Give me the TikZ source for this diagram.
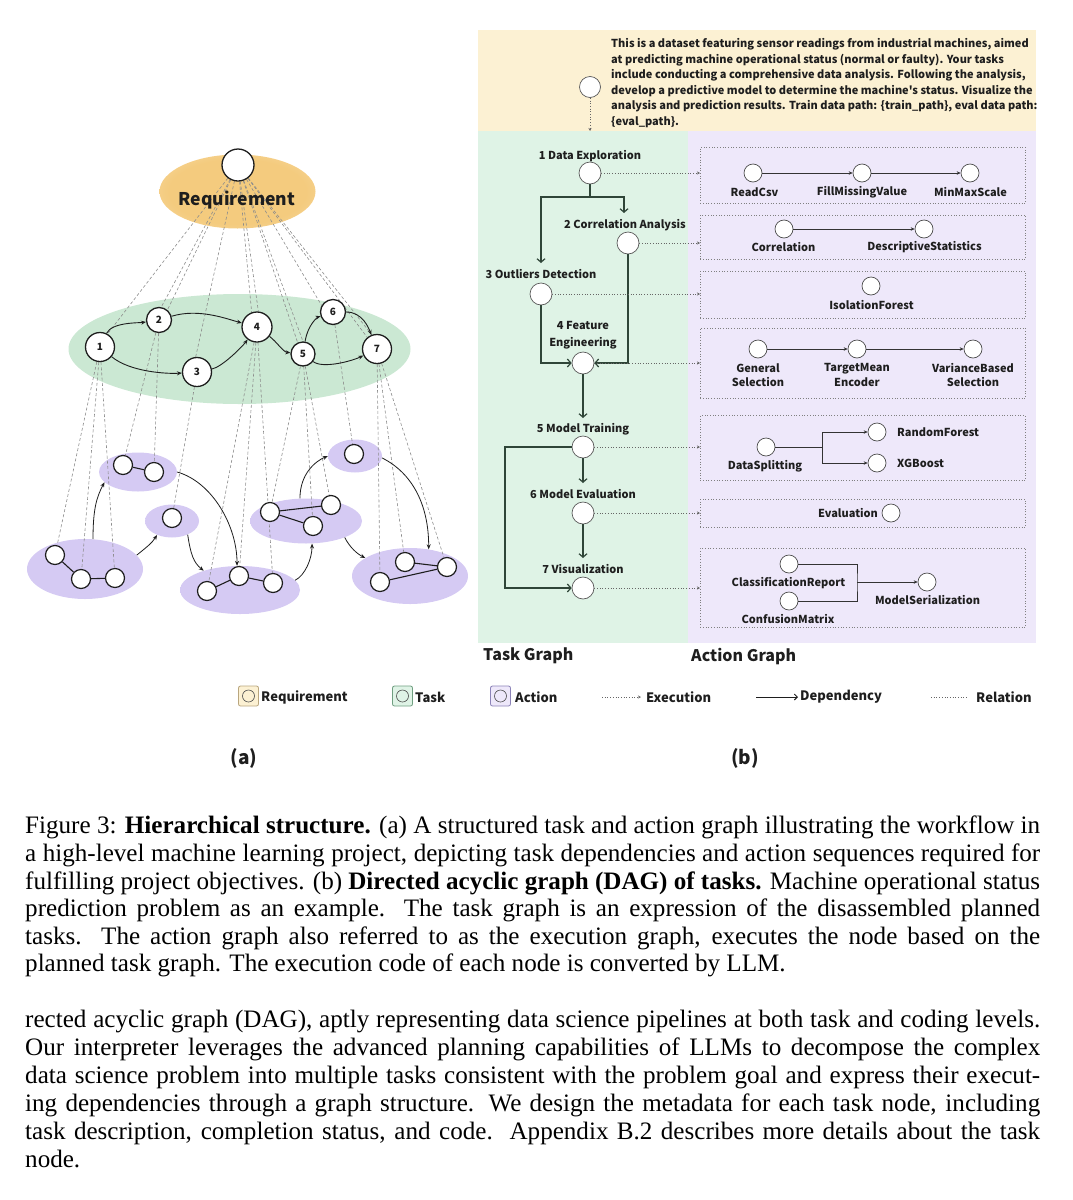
\documentclass[tikz,border=0pt]{standalone}
\usepackage{fontspec}
\usepackage{graphicx}
\setmainfont{Liberation Serif}
\newfontfamily\sfcjk{Noto Sans CJK SC}
\usetikzlibrary{arrows.meta,shapes.geometric}
\pgfdeclarelayer{bg}
\pgfdeclarelayer{mid}
\pgfsetlayers{bg,mid,main}
\definecolor{reqIn}{HTML}{F4CB7E}
\definecolor{reqOut}{HTML}{FBEACB}
\definecolor{grnIn}{HTML}{CBE8D3}
\definecolor{grnOut}{HTML}{E6F4EA}
\definecolor{purIn}{HTML}{D5CAF3}
\definecolor{purOut}{HTML}{E8E2F9}
\definecolor{bgY}{HTML}{FCF1D3}
\definecolor{bgG}{HTML}{DFF3E6}
\definecolor{bgP}{HTML}{EEE8FA}
\definecolor{depG}{HTML}{2F4538}
\definecolor{ink}{HTML}{1E1E1E}
\definecolor{lgYb}{HTML}{B9A67E}
\definecolor{lgGb}{HTML}{6F9E80}
\definecolor{lgPb}{HTML}{8C83B8}
\pgfdeclareradialshading{reqshade}{\pgfpoint{0bp}{0bp}}{color(0bp)=(reqIn); color(22bp)=(reqIn); color(50bp)=(reqOut)}
\pgfdeclareradialshading{grnshade}{\pgfpoint{0bp}{0bp}}{color(0bp)=(grnIn); color(34bp)=(grnIn); color(50bp)=(grnOut)}
\pgfdeclareradialshading{purshade}{\pgfpoint{0bp}{0bp}}{color(0bp)=(purIn); color(34bp)=(purIn); color(50bp)=(purOut)}
\newcommand{\capline}[1]{\hbox to 1015pt{#1}}
\newcommand{\capend}[1]{\hbox{#1}}
\begin{document}
\begin{tikzpicture}[x=1pt,y=-1pt,
  lab/.style={font=\sfcjk\bfseries\fontsize{11}{13}\selectfont, text=ink, inner sep=1pt},
  leg/.style={font=\sfcjk\bfseries\fontsize{13}{14}\selectfont, text=ink, inner sep=0pt, anchor=west},
  tnode/.style={circle, draw=ink, fill=white, line width=1.3pt, inner sep=0pt, font=\sfcjk\bfseries\fontsize{10}{10}\selectfont, text=ink},
  anode/.style={circle, draw=ink, fill=white, line width=1.2pt, minimum size=19pt, inner sep=0pt},
  clus/.style={ellipse, shade, shading=purshade, inner sep=0pt},
  rel/.style={draw=black!45, line width=0.6pt, dash pattern=on 3pt off 2.2pt},
  tdepa/.style={draw=ink, line width=0.9pt, -{Stealth[length=5pt,width=4pt]}},
  carr/.style={draw=ink, line width=0.8pt, -{Stealth[length=5pt,width=4pt]}},
  aline/.style={draw=ink, line width=1.1pt},
  bcirc/.style={circle, draw=black!65, fill=white, line width=0.7pt, minimum size=22pt, inner sep=0pt},
  bact/.style={circle, draw=black!70, fill=white, line width=0.7pt, minimum size=18pt, inner sep=0pt},
  tdep/.style={draw=depG, line width=1.2pt, -{Straight Barb[length=3.5pt,width=8pt,line width=1.2pt]}},
  tline/.style={draw=depG, line width=1.2pt},
  adep/.style={draw=black!80, line width=0.7pt, -{Stealth[length=4pt,width=3.5pt]}},
  aln/.style={draw=black!80, line width=0.7pt},
  exe/.style={draw=black!60, line width=0.7pt, dotted, -{Stealth[length=3pt,width=3pt]}},
  abox/.style={draw=black!50, line width=0.7pt, dotted, inner sep=0pt, anchor=north west, minimum width=325pt},
  lgbox/.style={rounded corners=2pt, minimum size=20pt, inner sep=0pt, line width=0.8pt},
  lgcirc/.style={circle, draw=black!70, fill=none, minimum size=12pt, inner sep=0pt, line width=0.6pt},
 ]
\useasboundingbox (0,0) rectangle (1073,1200);

% ================= backgrounds =================
\begin{pgfonlayer}{bg}
\fill[bgY] (478,30) rectangle (1036,131);
\fill[bgG] (478,131) rectangle (688,643);
\fill[bgP] (688,131) rectangle (1036,643);
\node[ellipse, shade, shading=reqshade, minimum width=156pt, minimum height=74pt, inner sep=0pt] (reqE) at (237.5,191.5) {};
\node[ellipse, shade, shading=grnshade, minimum width=342pt, minimum height=110pt, inner sep=0pt] (taskE) at (239.5,349) {};
\node[clus, minimum width=116pt, minimum height=60pt] (cA) at (85,569) {};
\node[clus, minimum width=78pt, minimum height=39pt] (cB) at (138,472) {};
\node[clus, minimum width=54pt, minimum height=33pt] (cC) at (172,521) {};
\node[clus, minimum width=120pt, minimum height=48pt] (cD) at (240,590) {};
\node[clus, minimum width=112pt, minimum height=45pt] (cE) at (306,521) {};
\node[clus, minimum width=54pt, minimum height=33pt] (cF) at (355,456) {};
\node[clus, minimum width=116pt, minimum height=56pt] (cG) at (410,576) {};
\end{pgfonlayer}

% ================= (a) nodes =================
\node[tnode, minimum size=32pt] (req) at (238,165) {};
\node[font=\sfcjk\bfseries\fontsize{17.5}{18}\selectfont, text=ink] (reqlab) at (237,200) {Requirement};
\node[tnode, minimum size=29pt] (t1) at (100,347) {1};
\node[tnode, minimum size=25pt] (t2) at (159,320) {2};
\node[tnode, minimum size=29pt] (t3) at (197,372) {3};
\node[tnode, minimum size=30pt] (t4) at (257,327) {4};
\node[tnode, minimum size=24pt] (t5) at (303,354) {5};
\node[tnode, minimum size=25pt] (t6) at (333,312) {6};
\node[tnode, minimum size=29pt] (t7) at (377,349) {7};

\node[anode] (a1) at (55,555) {};
\node[anode] (a2) at (81,579) {};
\node[anode] (a3) at (115,578) {};
\node[anode] (b1) at (123,465) {};
\node[anode] (b2) at (154,472) {};
\node[anode] (c1) at (172,518) {};
\node[anode] (d1) at (207,591) {};
\node[anode] (d2) at (239,576) {};
\node[anode] (d3) at (273,583) {};
\node[anode] (e1) at (270,512) {};
\node[anode] (e2) at (331,505) {};
\node[anode] (e3) at (313,526) {};
\node[anode] (f1) at (354,454) {};
\node[anode] (g1) at (380,582) {};
\node[anode] (g2) at (405,562) {};
\node[anode] (g3) at (447,567) {};

\begin{pgfonlayer}{mid}
% requirement -> tasks
\draw[rel] (req) -- (t1.60);
\draw[rel] (req) -- (t2.80);
\draw[rel] (req) -- (t2.50);
\draw[rel] (req) -- (t3.95);
\draw[rel] (req) -- (t4.110);
\draw[rel] (req) -- (t4.85);
\draw[rel] (req) -- (t5.115);
\draw[rel] (req) -- (t5.90);
\draw[rel] (req) -- (t6.150);
\draw[rel] (req) -- (t7.130);
\draw[rel] (req) -- (t7.110);
% tasks -> actions
\draw[rel] (t1) -- (a1);
\draw[rel] (t1) -- (a2);
\draw[rel] (t1) -- (a3);
\draw[rel] (t2) -- (b1);
\draw[rel] (t2) -- (b2);
\draw[rel] (t3) -- (c1);
\draw[rel] (t4) -- (d1);
\draw[rel] (t4) -- (d2);
\draw[rel] (t4) -- (d3);
\draw[rel] (t5) -- (e1);
\draw[rel] (t5) -- (e2);
\draw[rel] (t5) -- (e3);
\draw[rel] (t6) -- (f1);
\draw[rel] (t7) -- (g1);
\draw[rel] (t7) -- (g2);
\draw[rel] (t7) -- (g3);
% links inside action clusters
\draw[aline] (a1) -- (a2) -- (a3);
\draw[aline] (b1) -- (b2);
\draw[aline] (d1) -- (d2) -- (d3);
\draw[aline] (e1) -- (e2);
\draw[aline] (e1) -- (e3);
\draw[aline] (g2) -- (g3);
\draw[aline] (g1) -- (g3);
% task dependencies
\draw[tdepa] (t1) .. controls +(12,-25) and +(-20,3) .. (t2);
\draw[tdepa] (t1) .. controls +(30,25) and +(-30,2) .. (t3);
\draw[tdepa] (t2) .. controls +(40,-12) and +(-30,-8) .. (t4);
\draw[tdepa] (t3) .. controls +(25,-5) and +(-15,20) .. (t4);
\draw[tdepa] (t4) .. controls +(20,15) and +(-20,-2) .. (t5);
\draw[tdepa] (t5) .. controls +(5,-30) and +(-15,5) .. (t6);
\draw[tdepa] (t6) .. controls +(30,0) and +(-8,-20) .. (t7);
\draw[tdepa] (t5) .. controls +(20,15) and +(-25,12) .. (t7);
% cluster arrows
\draw[carr] (cA.75) .. controls +(0,-30) and +(-8,15) .. (cB.197);
\draw[carr] (cA.15) .. controls +(10,-8) and +(-5,8) .. (cC.223);
\draw[carr] (cC.319) .. controls +(3,20) and +(-10,-8) .. (cD.152);
\draw[carr] (cB.0) .. controls +(35,10) and +(0,-40) .. (cD.97);
\draw[carr] (cD.10) .. controls +(10,-5) and +(0,15) .. (cE.285);
\draw[carr] (cE.105) .. controls +(0,-25) and +(-12,5) .. (cF.180);
\draw[carr] (cE.337) .. controls +(5,10) and +(-8,-4) .. (cG.158);
\draw[carr] (cF.356) .. controls +(30,15) and +(0,-45) .. (cG.55);
\end{pgfonlayer}

% ================= (b) requirement =================
\node[bcirc, minimum size=21pt] (RQ) at (590,87) {};
\coordinate (rqend) at (590,131);
\draw[exe] (RQ.south) -- (rqend);
\node[anchor=north west, align=left, inner sep=0pt, font=\sfcjk\bfseries\fontsize{11}{15.5}\selectfont, text=ink] (qtext) at (611,38.5)
 {This is a dataset featuring sensor readings from industrial machines, aimed\\
  at predicting machine operational status (normal or faulty). Your tasks\\
  include conducting a comprehensive data analysis. Following the analysis,\\
  develop a predictive model to determine the machine's status. Visualize the\\
  analysis and prediction results. Train data path: \{train\_path\}, eval data path:\\
  \{eval\_path\}.};

% ================= (b) task graph =================
\node[bcirc] (T1) at (590,173) {};
\node[bcirc] (T2) at (628,243) {};
\node[bcirc] (T3) at (541,294) {};
\node[bcirc] (T4) at (583,363) {};
\node[bcirc] (T5) at (583,447) {};
\node[bcirc] (T6) at (583,513) {};
\node[bcirc] (T7) at (583,588) {};
\node[lab] (L1) at (590,156) {1 Data Exploration};
\node[lab] (L2) at (625,225) {2 Correlation Analysis};
\node[lab] (L3) at (541,274) {3 Outliers Detection};
\node[lab, align=center, font=\sfcjk\bfseries\fontsize{11}{16.5}\selectfont] (L4) at (583,335) {4 Feature\\Engineering};
\node[lab] (L5) at (583,429) {5 Model Training};
\node[lab] (L6) at (583,494) {6 Model Evaluation};
\node[lab] (L7) at (583,569) {7 Visualization};
\node[font=\sfcjk\bfseries\fontsize{16}{16}\selectfont, text=ink, anchor=west, inner sep=0pt] (TG) at (483,656) {Task Graph};
\node[font=\sfcjk\bfseries\fontsize{16}{16}\selectfont, text=ink, anchor=west, inner sep=0pt] (AG) at (691,656) {Action Graph};

\coordinate (j1) at (590,197);
\coordinate (in2) at (624,213);
\coordinate (in3) at (541,263);
\coordinate (in5) at (583,418);
\coordinate (in6) at (583,483);
\coordinate (in7) at (583,558);
\coordinate (k5) at (505,447);
\draw[tline] (T1.south) -- (j1);
\draw[tdep] (j1) -| (in2);
\draw[tdep] (j1) -| (in3);
\draw[tdep] (T3.south) |- (T4.west);
\draw[tdep] (T2.south) |- (T4.east);
\draw[tdep] (T4.south) -- (in5);
\draw[tdep] (T5.south) -- (in6);
\draw[tdep] (T6.south) -- (in7);
\draw[tdep] (T5.west) -- (k5) |- (T7.west);

% ================= (b) action boxes =================
\node[abox, minimum height=56pt] (B1) at (700,147) {};
\node[abox, minimum height=44pt] (B2) at (700,215) {};
\node[abox, minimum height=47pt] (B3) at (700,271) {};
\node[abox, minimum height=70pt] (B4) at (700,328) {};
\node[abox, minimum height=65pt] (B5) at (700,415) {};
\node[abox, minimum height=28pt] (B6) at (700,499) {};
\node[abox, minimum height=79pt] (B7) at (700,548) {};

\draw[exe] (T1.east) -- (T1.east -| B1.west);
\draw[exe] (T2.east) -- (T2.east -| B2.west);
\draw[exe] (T3.east) -- (T3.east -| B3.west);
\draw[exe] (T4.east) -- (T4.east -| B4.west);
\draw[exe] (T5.east) -- (T5.east -| B5.west);
\draw[exe] (T6.east) -- (T6.east -| B6.west);
\draw[exe] (T7.east) -- (T7.east -| B7.west);

% box 1
\node[bact] (R1) at (753,173) {};
\node[bact] (R2) at (862,173) {};
\node[bact] (R3) at (970,173) {};
\node[lab] (lR1) at (754.5,192) {ReadCsv};
\node[lab] (lR2) at (862,192) {FillMissingValue};
\node[lab] (lR3) at (970.5,192) {MinMaxScale};
\draw[adep] (R1) -- (R2);
\draw[adep] (R2) -- (R3);
% box 2
\node[bact] (C1) at (784,229) {};
\node[bact] (C2) at (924,229) {};
\node[lab] (lC1) at (783.5,247) {Correlation};
\node[lab] (lC2) at (924.5,247) {DescriptiveStatistics};
\draw[adep] (C1) -- (C2);
% box 3
\node[bact] (I1) at (871,286) {};
\node[lab] (lI1) at (871.5,305) {IsolationForest};
% box 4
\node[bact] (G1) at (758,349) {};
\node[bact] (G2) at (857,349) {};
\node[bact] (G3) at (973,349) {};
\node[lab, align=center, font=\sfcjk\bfseries\fontsize{11}{14.6}\selectfont] (lG1) at (758,375) {General\\Selection};
\node[lab, align=center, font=\sfcjk\bfseries\fontsize{11}{14.6}\selectfont] (lG2) at (857,375) {TargetMean\\Encoder};
\node[lab, align=center, font=\sfcjk\bfseries\fontsize{11}{14.6}\selectfont] (lG3) at (973,375) {VarianceBased\\Selection};
\draw[adep] (G1) -- (G2);
\draw[adep] (G2) -- (G3);
% box 5
\node[bact] (DS) at (766,447) {};
\node[bact] (RF) at (877,432) {};
\node[bact] (XG) at (877,463) {};
\node[lab] (lDS) at (765,466) {DataSplitting};
\node[lab, anchor=west] (lRF) at (896,432) {RandomForest};
\node[lab, anchor=west] (lXG) at (896,463) {XGBoost};
\coordinate (f5) at (822,447);
\draw[aln] (DS) -- (f5);
\draw[adep] (f5) |- (RF);
\draw[adep] (f5) |- (XG);
% box 6
\node[bact] (EV) at (891,513) {};
\node[lab] (lEV) at (848,513) {Evaluation};
% box 7
\node[bact] (CR) at (789,564) {};
\node[bact] (CM) at (789,601) {};
\node[bact] (MS) at (927,582) {};
\node[lab] (lCR) at (788.5,583) {ClassificationReport};
\node[lab] (lCM) at (788,619) {ConfusionMatrix};
\node[lab] (lMS) at (927.5,600) {ModelSerialization};
\coordinate (f7) at (857,582);
\draw[aln] (CR.east) -| (f7) |- (CM.east);
\draw[adep] (f7) -- (MS);

% ================= legend =================
\node[lgbox, fill=bgY, draw=lgYb] (lgR) at (248.5,696) {};
\node[lgcirc] (lgRc) at (248.5,696) {};
\node[leg] (lgRt) at (261,697) {Requirement};
\node[lgbox, fill=bgG, draw=lgGb] (lgT) at (402.5,696) {};
\node[lgcirc] (lgTc) at (402.5,696) {};
\node[leg] (lgTt) at (415,697) {Task};
\node[lgbox, fill=bgP, draw=lgPb] (lgA) at (500.5,696) {};
\node[lgcirc] (lgAc) at (500.5,696) {};
\node[leg] (lgAt) at (515,697) {Action};
\coordinate (lgE1) at (602,697);
\coordinate (lgE2) at (641,697);
\draw[exe] (lgE1) -- (lgE2);
\node[leg] (lgEt) at (646,697) {Execution};
\coordinate (lgD1) at (756,697);
\coordinate (lgD2) at (798,697);
\draw[draw=ink, line width=0.9pt, -{Straight Barb[length=3pt,width=6pt]}] (lgD1) -- (lgD2);
\node[leg] (lgDt) at (800,697) {Dependency};
\coordinate (lgL1) at (931,697);
\coordinate (lgL2) at (967,697);
\draw[draw=black!60, line width=0.7pt, dotted] (lgL1) -- (lgL2);
\node[leg] (lgLt) at (976,697) {Relation};

\node[font=\sfcjk\bfseries\fontsize{19}{20}\selectfont, text=ink] (la) at (244,758) {(a)};
\node[font=\sfcjk\bfseries\fontsize{19}{20}\selectfont, text=ink] (lb) at (745,758) {(b)};

% ================= caption & text =================
\node[anchor=north west, inner sep=0pt, text=black] (cap1) at (25,816) {\vbox{\fontsize{25.1}{27.6}\selectfont
\capline{Figure 3: \textbf{Hierarchical structure.} (a) A structured task and action graph illustrating the workflow in}
\capline{a high-level machine learning project, depicting task dependencies and action sequences required for}
\capline{fulfilling project objectives. (b) \textbf{Directed acyclic graph (DAG) of tasks.} Machine operational status}
\capline{prediction problem as an example. The task graph is an expression of the disassembled planned}
\capline{tasks. The action graph also referred to as the execution graph, executes the node based on the}
\capend{planned task graph. The execution code of each node is converted by LLM.}}};

\node[anchor=north west, inner sep=0pt, text=black] (par2) at (25,1010) {\vbox{\fontsize{25.1}{28}\selectfont
\capline{rected acyclic graph (DAG), aptly representing data science pipelines at both task and coding levels.}
\capline{Our interpreter leverages the advanced planning capabilities of LLMs to decompose the complex}
\capline{data science problem into multiple tasks consistent with the problem goal and express their execut-}
\capline{ing dependencies through a graph structure. We design the metadata for each task node, including}
\capline{task description, completion status, and code.\ \ Appendix B.2 describes more details about the task}
\capend{node.}}};
\end{tikzpicture}
\end{document}
